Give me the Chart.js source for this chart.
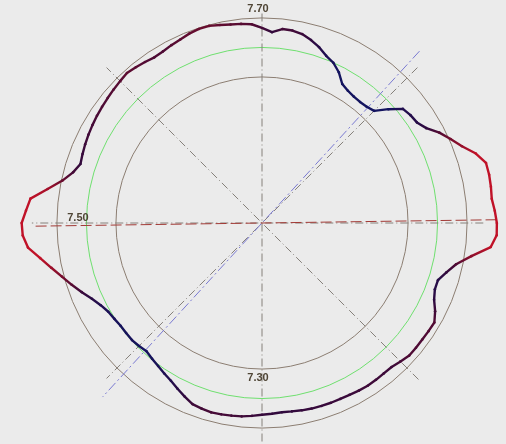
<!DOCTYPE html>
<html>
<head>
<meta charset="utf-8">
<script src="https://cdn.jsdelivr.net/npm/chart.js@4.4.1/dist/chart.umd.min.js"></script>
<style>
  html, body { margin: 0; padding: 0; background: #ebebeb; }
  canvas { display: block; }
</style>
</head>
<body>
<canvas id="chart" width="506" height="444"></canvas>
<script>
// measured profile, one reading every 3 degrees, clockwise from the top
const profile = [
  7.632, 7.605, 7.632, 7.631, 7.619, 7.594, 7.563, 7.524, 7.499, 7.457,
  7.398, 7.379, 7.369, 7.366, 7.371, 7.385, 7.463, 7.539, 7.554, 7.562,
  7.596, 7.659, 7.709, 7.762, 7.834, 7.882, 7.884, 7.881, 7.876, 7.890,
  7.902, 7.903, 7.869, 7.747, 7.655, 7.604, 7.564, 7.565, 7.587, 7.627,
  7.659, 7.656, 7.653, 7.653, 7.653, 7.638, 7.623, 7.622, 7.624, 7.625,
  7.622, 7.617, 7.615, 7.615, 7.614, 7.612, 7.608, 7.603, 7.600, 7.605,
  7.610, 7.619, 7.628, 7.632, 7.636, 7.639, 7.633, 7.625, 7.598, 7.571,
  7.545, 7.526, 7.508, 7.494, 7.480, 7.489, 7.496, 7.495, 7.495, 7.503,
  7.513, 7.537, 7.572, 7.618, 7.666, 7.714, 7.770, 7.832, 7.905, 7.934,
  7.939, 7.912, 7.888, 7.781, 7.693, 7.636, 7.604, 7.613, 7.622, 7.630,
  7.637, 7.644, 7.650, 7.656, 7.663, 7.670, 7.678, 7.669, 7.659, 7.649,
  7.653, 7.663, 7.672, 7.685, 7.693, 7.693, 7.682, 7.672, 7.667, 7.659
];
const angleStep = 3;
const angleLabels = profile.map((_, i) => (i * angleStep) + '°');

// reference circles and where their labels sit (degrees)
const tickValues = [7.30, 7.50, 7.70];
const tickLabelAngles = [180, 270, 0];

// centre axes: direction, reach on that side, reach on the opposite side
const guideAngles = [0, 45, 90, 135];
const guideReachFwd = [7.73, 7.80, 7.81, 7.81];
const guideReachBack = [7.86, 7.80, 7.87, 7.80];

// fitted axes (blue, red)
const fitAngles = [42.5, 89.2];
const fitReachFwd = [7.89, 7.90];
const fitReachBack = [7.91, 7.86];

const colorStops = [
  [7.48, [20, 20, 95]],
  [7.60, [48, 10, 62]],
  [7.68, [95, 12, 48]],
  [7.82, [192, 18, 40]]
];

function profileColor(v) {
  if (v <= colorStops[0][0]) return 'rgb(' + colorStops[0][1].join(',') + ')';
  for (let i = 1; i < colorStops.length; i++) {
    const [v1, c1] = colorStops[i];
    if (v <= v1) {
      const [v0, c0] = colorStops[i - 1];
      const t = (v - v0) / (v1 - v0);
      const c = c0.map((x, k) => Math.round(x + (c1[k] - x) * t));
      return 'rgb(' + c.join(',') + ')';
    }
  }
  return 'rgb(' + colorStops[colorStops.length - 1][1].join(',') + ')';
}

// radar lines ignore segment styles, so colour the outline with a conic gradient
function profileGradient(context) {
  const chart = context.chart;
  const r = chart.scales.r;
  if (!r || !r.xCenter) return '#500c30';
  const g = chart.ctx.createConicGradient(-Math.PI / 2, r.xCenter, r.yCenter);
  profile.forEach((v, i) => g.addColorStop(i / profile.length, profileColor(v)));
  g.addColorStop(1, profileColor(profile[0]));
  return g;
}

function drawAxis(chart, angle, fwd, back, color, dash) {
  const r = chart.scales.r;
  const perDeg = angleLabels.length / 360;
  const a = r.getPointPosition(angle * perDeg, r.getDistanceFromCenterForValue(fwd));
  const b = r.getPointPosition((angle + 180) * perDeg, r.getDistanceFromCenterForValue(back));
  const ctx = chart.ctx;
  ctx.save();
  ctx.strokeStyle = color;
  ctx.lineWidth = 1;
  ctx.setLineDash(dash);
  ctx.beginPath();
  ctx.moveTo(a.x, a.y);
  ctx.lineTo(b.x, b.y);
  ctx.stroke();
  ctx.restore();
}

const roundnessPlugin = {
  id: 'roundness',
  beforeDraw(chart) {
    const ctx = chart.ctx;
    ctx.save();
    ctx.fillStyle = '#ebebeb';
    ctx.fillRect(0, 0, chart.width, chart.height);
    ctx.restore();
  },
  beforeDatasetsDraw(chart) {
    guideAngles.forEach((a, i) => drawAxis(chart, a, guideReachFwd[i], guideReachBack[i], '#85807a', [8, 3, 1, 3]));
    drawAxis(chart, fitAngles[0], fitReachFwd[0], fitReachBack[0], '#7a7ad2', [10, 3, 2, 3]);
    drawAxis(chart, fitAngles[1], fitReachFwd[1], fitReachBack[1], '#a23a36', [11, 4]);
  },
  afterDatasetsDraw(chart) {
    const r = chart.scales.r;
    const ctx = chart.ctx;
    const perDeg = angleLabels.length / 360;
    ctx.save();
    ctx.font = 'bold 11px "Liberation Sans", Arial, sans-serif';
    ctx.fillStyle = '#4f4535';
    ctx.textAlign = 'center';
    ctx.textBaseline = 'middle';
    tickValues.forEach((v, i) => {
      const ang = tickLabelAngles[i];
      const p = r.getPointPosition(ang * perDeg, r.getDistanceFromCenterForValue(v) + 8.5);
      const vertical = ang % 180 === 0;
      ctx.fillText(v.toFixed(2), p.x - (vertical ? 4 : 0), p.y - (vertical ? 0 : 5));
    });
    ctx.restore();
  }
};

new Chart(document.getElementById('chart'), {
  type: 'radar',
  data: {
    labels: angleLabels,
    datasets: [{
      data: profile,
      fill: false,
      clip: false,
      borderWidth: 2.4,
      borderColor: profileGradient,
      borderCapStyle: 'round',
      borderJoinStyle: 'round',
      pointRadius: 1.3,
      pointBorderWidth: 0,
      pointBackgroundColor: ctx => profileColor(ctx.raw)
    }]
  },
  options: {
    responsive: false,
    devicePixelRatio: 1,
    animation: false,
    layout: { padding: { left: 18, top: 2, right: 0, bottom: 0 } },
    plugins: {
      legend: { display: false },
      tooltip: { enabled: false }
    },
    scales: {
      r: {
        min: 6.31,
        max: 7.808,
        startAngle: 0,
        angleLines: { display: false },
        pointLabels: { display: false },
        ticks: { display: false },
        grid: {
          circular: true,
          lineWidth: 1,
          color: ctx => (ctx.tick && ctx.tick.value === 7.5) ? '#6fe06f' : '#8c7e72'
        },
        afterBuildTicks: scale => {
          scale.ticks = [scale.min].concat(tickValues).map(v => ({ value: v }));
        }
      }
    }
  },
  plugins: [roundnessPlugin]
});
</script>
</body>
</html>
